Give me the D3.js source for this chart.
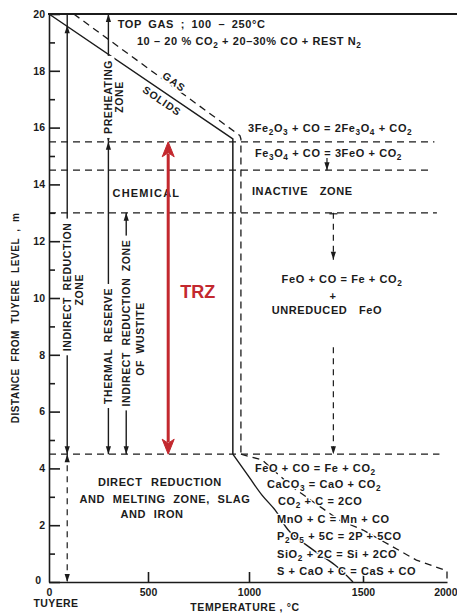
<!DOCTYPE html>
<html>
<head>
<meta charset="utf-8">
<script src="https://cdn.jsdelivr.net/npm/d3@7"></script>
<style>
  body { margin: 0; background: #fff; }
  svg text { font-family: "Liberation Sans", Arial, sans-serif; font-weight: bold; fill: #1b1b1b; }
</style>
</head>
<body>
<div id="chart"></div>
<script>
// ---- data (temperature in °C, height in m) ----
const xTicks = [0, 500, 1000, 1500, 2000];
const yTicks = [0, 2, 4, 6, 8, 10, 12, 14, 16, 18, 20];
const yMinorTicks = [1, 3, 5, 7, 9, 11, 13, 15, 17, 19];

// solids temperature profile
const solidsUpper = [[0, 20], [920, 15.6], [920, 4.5]];
const solidsLower = [[920, 4.5], [1000, 3.7], [1057, 3.06], [1114, 2.54], [1180, 1.76], [1281, 1.13], [1377, 0.6], [1456, 0]];

// gas temperature profile
const gasUpper = [[125, 20], [955, 15.72], [960, 15.6], [960, 4.5]];
const gasLower = [[960, 4.5], [1057, 4.3], [1189, 3.35], [1395, 2.18], [1500, 1.83], [1818, 0.77], [2000, 0.39], [2000, 0]];

// horizontal zone boundaries and where each dashed line stops
const zoneLevels = [15.5, 14.5, 13.0, 4.5];
const zoneLevelEnds = [1925, 1910, 1940, 1955];

// vertical zone arrows: [temperature, top, bottom]
const zoneSegments = [[92, 20, 4.5], [300, 20, 15.5], [300, 15.5, 4.5], [390, 13, 4.5]];
const dashedSegments = [[92, 4.5, 0], [1370, 13, 11.35], [1370, 8.27, 4.5]];
const shortArrow = [1342, 14.93, 14.5];
// arrow tips: [temperature, height, direction]
const arrowTips = [
  [92, 19.6, "up"], [92, 4.5, "down"], [92, 4.5, "up"], [92, 0, "down"],
  [300, 20, "up"], [300, 15.5, "down"], [300, 15.5, "up"], [300, 4.5, "down"],
  [390, 13, "up"], [390, 4.5, "down"],
  [1370, 11.35, "down"], [1370, 4.5, "down"], [1342, 14.5, "down"]
];

// thermal reserve zone (red)
const trz = [600, 15.5, 4.5];

const topReactions = ["3Fe_2O_3 + CO = 2Fe_3O_4 + CO_2", "Fe_3O_4 + CO = 3FeO + CO_2"];
const bottomReactions = [
  "FeO + CO = Fe + CO_2",
  "CaCO_3 = CaO + CO_2",
  "CO_2 + C = 2CO",
  "MnO + C = Mn + CO",
  "P_2O_5 + 5C = 2P + 5CO",
  "SiO_2 + 2C = Si + 2CO",
  "S + CaO + C = CaS + CO"
];
const bottomReactionT = [1026, 1079, 1127, 1123, 1123, 1123, 1123];
const bottomReactionH = [3.87, 3.31, 2.71, 2.08, 1.48, 0.85, 0.25];

const ink = "#1b1b1b";
const red = "#c3282e";

// the hand-drawn temperature axis is not evenly spaced
const x = d3.scaleLinear().domain(xTicks).range([49, 148, 249, 363, 447]);
const y = d3.scaleLinear().domain([0, 20]).range([582, 14]);

const svg = d3.select("#chart").append("svg")
  .attr("width", 457)
  .attr("height", 614);

const line = d3.line().x(d => x(d[0])).y(d => y(d[1]));
const curve = d3.line().x(d => x(d[0])).y(d => y(d[1])).curve(d3.curveMonotoneY);

function richText(g, str, px, py, anchor) {
  const t = g.append("text").attr("x", px).attr("y", py).attr("text-anchor", anchor || "start");
  let sub = false;
  str.split(/(_\d)/).filter(s => s).forEach(part => {
    if (part[0] === "_") {
      t.append("tspan").attr("dy", sub ? 0 : 3).style("font-size", "0.75em").text(part[1]);
      sub = true;
    } else {
      t.append("tspan").attr("dy", sub ? -3 : 0).text(part);
      sub = false;
    }
  });
  return t;
}

function halo(t, w) {
  return t.attr("stroke", "#fff").attr("stroke-width", w || 3).attr("paint-order", "stroke").attr("stroke-linejoin", "round");
}

// rotated zone name on a white patch so the zone line breaks around it
function vLabel(str, t, h, dx) {
  const g = svg.append("g").attr("transform", `translate(${x(t) + (dx || 0)},${y(h)}) rotate(-90)`);
  const r = g.append("rect").attr("fill", "#fff");
  const txt = g.append("text")
    .attr("text-anchor", "middle").attr("dominant-baseline", "central")
    .style("font-size", "10.5px").style("letter-spacing", "0.6px").style("word-spacing", "3px")
    .text(str);
  const b = txt.node().getBBox();
  r.attr("x", b.x - 4).attr("y", b.y).attr("width", b.width + 8).attr("height", b.height);
  return g;
}

function arrowHead(t, h, dir) {
  const px = x(t), py = y(h), s = dir === "up" ? 1 : -1;
  svg.append("path")
    .attr("d", `M${px},${py} L${px - 2.6},${py + 8 * s} L${px + 2.6},${py + 8 * s} Z`)
    .attr("fill", ink);
}

// ---- axes ----
const yAxis = svg.append("g")
  .attr("transform", `translate(${x(0)},0)`)
  .call(d3.axisLeft(y).tickValues(yTicks).tickSize(-11).tickSizeOuter(0).tickPadding(4).tickFormat(d3.format("d")));
svg.append("g")
  .attr("transform", `translate(${x(0)},0)`)
  .call(d3.axisLeft(y).tickValues(yMinorTicks).tickSize(-6).tickSizeOuter(0).tickFormat(""))
  .call(g => g.select(".domain").remove())
  .selectAll("line").attr("stroke", ink).attr("stroke-width", 1.6);
const xAxis = svg.append("g")
  .attr("transform", `translate(0,${y(0)})`)
  .call(d3.axisBottom(x).tickValues(xTicks).tickSize(-10).tickSizeOuter(0).tickPadding(7).tickFormat(d3.format("d")));
[yAxis, xAxis].forEach(a => {
  a.selectAll("path, line").attr("stroke", ink).attr("stroke-width", 1.6);
  a.selectAll("text").attr("fill", ink).style("font-size", "10.5px")
    .style("font-family", "\"Liberation Sans\", Arial, sans-serif").style("font-weight", "bold");
});
xAxis.selectAll(".tick").filter(d => d === 0 || d === 2000).select("line").remove();
xAxis.selectAll(".tick").filter(d => d === 2000).select("text").attr("text-anchor", "end").attr("x", 10);
yAxis.selectAll(".tick").filter(d => d === 0).select("text").attr("x", -8).attr("dy", "0.1em");

// top border
svg.append("line")
  .attr("x1", x(0) - 1).attr("x2", 457)
  .attr("y1", y(20)).attr("y2", y(20))
  .attr("stroke", ink).attr("stroke-width", 2.2);

// ---- dashed zone boundaries ----
svg.selectAll(".level").data(zoneLevels).join("line")
  .attr("class", "level")
  .attr("x1", x(0)).attr("x2", (d, i) => x(zoneLevelEnds[i]))
  .attr("y1", d => y(d)).attr("y2", d => y(d))
  .attr("stroke", ink).attr("stroke-width", 1.3).attr("stroke-dasharray", "7,5");

// ---- temperature profiles ----
svg.append("path").datum(solidsUpper).attr("d", line)
  .attr("fill", "none").attr("stroke", ink).attr("stroke-width", 1.5);
svg.append("path").datum(solidsLower).attr("d", curve)
  .attr("fill", "none").attr("stroke", ink).attr("stroke-width", 1.4);
svg.append("path").datum(gasUpper).attr("d", line)
  .attr("fill", "none").attr("stroke", ink).attr("stroke-width", 1.3).attr("stroke-dasharray", "7,5");
svg.append("path").datum(gasLower).attr("d", line)
  .attr("fill", "none").attr("stroke", ink).attr("stroke-width", 1.3).attr("stroke-dasharray", "7,5");

// ---- vertical zone markers ----
svg.selectAll(".zone").data(zoneSegments).join("line")
  .attr("class", "zone")
  .attr("x1", d => x(d[0])).attr("x2", d => x(d[0]))
  .attr("y1", d => y(d[1])).attr("y2", d => y(d[2]))
  .attr("stroke", ink).attr("stroke-width", 1.4);
svg.selectAll(".dzone").data(dashedSegments).join("line")
  .attr("class", "dzone")
  .attr("x1", d => x(d[0])).attr("x2", d => x(d[0]))
  .attr("y1", d => y(d[1])).attr("y2", d => y(d[2]))
  .attr("stroke", ink).attr("stroke-width", 1.2).attr("stroke-dasharray", "6,5");
svg.append("line")
  .attr("x1", x(shortArrow[0])).attr("x2", x(shortArrow[0]))
  .attr("y1", y(shortArrow[1])).attr("y2", y(shortArrow[2]))
  .attr("stroke", ink).attr("stroke-width", 1.2);
svg.append("line")
  .attr("x1", x(1370) - 4).attr("x2", x(1370) + 4)
  .attr("y1", y(13) + 1).attr("y2", y(13) + 1)
  .attr("stroke", ink).attr("stroke-width", 1.2);
arrowTips.forEach(d => arrowHead(d[0], d[1], d[2]));

// ---- labels ----
const solidsAngle = Math.atan2(y(15.6) - y(20), x(920) - x(0)) * 180 / Math.PI;
const gasAngle = Math.atan2(y(15.72) - y(20), x(955) - x(125)) * 180 / Math.PI;
halo(svg.append("text")
  .attr("transform", `translate(${x(630)},${y(17.62)}) rotate(${gasAngle})`)
  .attr("text-anchor", "middle").attr("dominant-baseline", "central")
  .style("font-size", "10.5px").style("letter-spacing", "1px").text("GAS"), 4);
svg.append("text")
  .attr("transform", `translate(${x(570)},${y(16.95)}) rotate(${solidsAngle})`)
  .attr("text-anchor", "middle").attr("dominant-baseline", "central")
  .style("font-size", "10.5px").style("letter-spacing", "0.8px").text("SOLIDS");

const topNotes = svg.append("g").style("font-size", "11px").style("letter-spacing", "0.6px");
topNotes.append("text").attr("x", x(347)).attr("y", y(19.5)).style("word-spacing", "3px").text("TOP GAS ;  100 – 250°C");
richText(topNotes, "10 – 20 % CO_2 + 20–30% CO + REST N_2", x(444), y(18.9));

const midNotes = svg.append("g").style("font-size", "11px").style("letter-spacing", "0.6px");
topReactions.forEach((r, i) => halo(richText(midNotes, r, x([995, 1026][i]), y([15.85, 14.96][i]))));
midNotes.append("text").attr("x", x(1013)).attr("y", y(13.63)).style("word-spacing", "8px").text("INACTIVE ZONE");
halo(midNotes.append("text").attr("x", x(321)).attr("y", y(13.56)).style("letter-spacing", "1.2px").text("CHEMICAL"));
halo(richText(midNotes, "FeO + CO = Fe + CO_2", x(1408), y(10.53), "middle"));
midNotes.append("text").attr("x", x(1368)).attr("y", y(9.92)).attr("text-anchor", "middle").text("+");
halo(midNotes.append("text").attr("x", x(1342)).attr("y", y(9.44)).attr("text-anchor", "middle").style("word-spacing", "8px").text("UNREDUCED FeO"));

const lowNotes = svg.append("g").style("font-size", "11px").style("letter-spacing", "0.6px").attr("text-anchor", "middle");
lowNotes.append("text").attr("x", x(559)).attr("y", y(3.38)).style("word-spacing", "5px").text("DIRECT REDUCTION");
lowNotes.append("text").attr("x", x(584)).attr("y", y(2.78)).style("word-spacing", "4px").text("AND MELTING ZONE, SLAG");
lowNotes.append("text").attr("x", x(520)).attr("y", y(2.25)).style("word-spacing", "4px").text("AND IRON");

const reactNotes = svg.append("g").style("font-size", "11px").style("letter-spacing", "0.6px");
bottomReactions.forEach((r, i) => halo(richText(reactNotes, r, x(bottomReactionT[i]), y(bottomReactionH[i])), 2.5));

// vertical zone names
vLabel("PREHEATING", 300, 17.08);
vLabel("ZONE", 300, 17.08, 11);
vLabel("INDIRECT REDUCTION", 92, 10.39);
vLabel("ZONE", 92, 10.29, 12);
vLabel("THERMAL RESERVE", 300, 8.31);
vLabel("INDIRECT REDUCTION ZONE", 390, 9.12);
vLabel("OF WUSTITE", 390, 8.56, 14);

// axis titles
svg.append("text")
  .attr("transform", `translate(15,${y(9.3)}) rotate(-90)`)
  .attr("text-anchor", "middle").attr("dominant-baseline", "central")
  .style("font-size", "10px").style("letter-spacing", "0.6px").style("word-spacing", "3px")
  .text("DISTANCE FROM TUYERE LEVEL , m");
svg.append("text").attr("x", 56).attr("y", 607).attr("text-anchor", "middle")
  .style("font-size", "10.5px").style("letter-spacing", "0.4px").text("TUYERE");
svg.append("text").attr("x", 245).attr("y", 611).attr("text-anchor", "middle")
  .style("font-size", "10.5px").style("letter-spacing", "0.6px").text("TEMPERATURE , °C");

// ---- thermal reserve zone arrow ----
const tx = x(trz[0]);
svg.append("line")
  .attr("x1", tx).attr("x2", tx)
  .attr("y1", y(trz[1]) + 12).attr("y2", y(trz[2]) - 12)
  .attr("stroke", red).attr("stroke-width", 3);
[[trz[1], 1], [trz[2], -1]].forEach(([h, s]) => {
  const py = y(h);
  svg.append("path")
    .attr("d", `M${tx},${py} L${tx - 6},${py + 15 * s} L${tx},${py + 11 * s} L${tx + 6},${py + 15 * s} Z`)
    .attr("fill", red).attr("stroke", red).attr("stroke-width", 1);
});
svg.append("text").attr("x", tx + 12).attr("y", y(10))
  .style("font-size", "18px").style("fill", red).text("TRZ");
</script>
</body>
</html>
